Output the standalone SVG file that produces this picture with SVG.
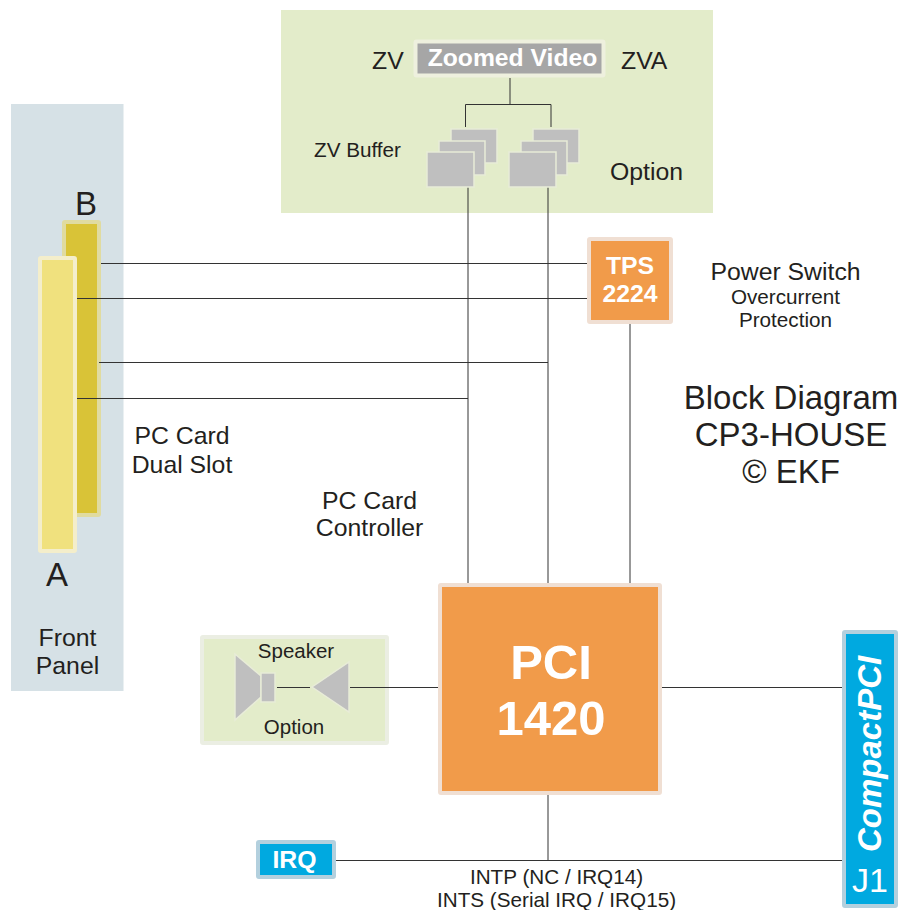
<svg xmlns="http://www.w3.org/2000/svg" width="901" height="910" viewBox="0 0 901 910">
<style>
text{font-family:"Liberation Sans",Arial,sans-serif;fill:#231f20}
.w{fill:#fff;font-weight:bold}
.m{text-anchor:middle}
.c{stroke:#333;stroke-width:1;fill:none}
.b{fill:#bfbfbf;stroke:#e8ecd8;stroke-width:1.5}
.o{fill:#f19b4a;stroke:#f0dfd3;stroke-width:4}
.bl{fill:#00a9e0;stroke:#b3d0de;stroke-width:4}
</style>
<rect id="front-panel-bg" x="11" y="104" width="112.500" height="587" fill="#d6e1e6"/>
<rect id="zv-bg" x="281" y="10" width="432" height="203" fill="#e3ecca"/>
<g id="speaker">
<rect x="202" y="637" width="185" height="106" fill="#e3ecca" stroke="#ebeee3" stroke-width="4" rx="1"/>
<path class="b" d="M235 654L261 676V697L235 720Z"/>
<rect class="b" x="261" y="673" width="14" height="29"/>
<path class="b" d="M349 662V712L312 687Z"/>
<text class="m" x="296" y="658" font-size="20.500">Speaker</text>
<text class="m" x="294" y="734" font-size="20.500">Option</text>
</g>
<g id="slot-b">
<rect x="64" y="222" width="35" height="293" fill="#d9c337" stroke="#e0dba0" stroke-width="4" rx="1"/>
<text x="75" y="215" font-size="33">B</text>
</g>
<g id="slot-a">
<rect x="40" y="258" width="35" height="293" fill="#f0e17e" stroke="#f4eecb" stroke-width="4" rx="1"/>
<text x="46" y="586" font-size="33">A</text>
</g>
<g id="connectors">
<path class="c" d="M510 78V104M465.500 127V104.500H551V127"/>
<path class="c" d="M468 187V583M548 187V583M630 323V583"/>
<path class="c" d="M101 263.500H587M77 298.500H587M99 362.500H548M77 398.500H468"/>
<path class="c" d="M277 687.500H310M350 687.500H438M662 687.500H842"/>
<path class="c" d="M335 860.500H842M548 795V860"/>
</g>
<g id="zoomed-video">
<rect x="415.500" y="41.500" width="188" height="34" fill="#a6a6a6" stroke="#eef0de" stroke-width="4" rx="1"/>
<text class="w m" x="512.500" y="66" font-size="24.700">Zoomed Video</text>
</g>
<g id="zv-labels">
<text x="372" y="69" font-size="24.800">ZV</text>
<text x="621" y="69" font-size="24.800">ZVA</text>
<text x="314" y="157" font-size="20.700">ZV Buffer</text>
<text x="610" y="180" font-size="24.800">Option</text>
</g>
<g id="buffer-left">
<rect class="b" x="451" y="129" width="46" height="34"/>
<rect class="b" x="439" y="141" width="46" height="34"/>
<rect class="b" x="427" y="152" width="47" height="35"/>
</g>
<g id="buffer-right">
<rect class="b" x="533" y="129" width="46" height="34"/>
<rect class="b" x="521" y="141" width="46" height="34"/>
<rect class="b" x="509" y="152" width="47" height="35"/>
</g>
<g id="front-panel-label">
<text class="m" x="67.500" y="646" font-size="24.800">Front</text>
<text class="m" x="67.500" y="674" font-size="24.800">Panel</text>
</g>
<g id="tps">
<rect class="o" x="589" y="239" width="82" height="83" rx="1"/>
<text class="w m" x="630" y="274" font-size="24.800">TPS</text>
<text class="w m" x="630" y="302" font-size="24.800">2224</text>
</g>
<g id="labels">
<text class="m" x="785.500" y="280" font-size="24.800">Power Switch</text>
<text class="m" x="785.500" y="304" font-size="20.700">Overcurrent</text>
<text class="m" x="785.500" y="327" font-size="20.700">Protection</text>
<text class="m" x="791" y="409" font-size="33">Block Diagram</text>
<text class="m" x="791" y="446" font-size="33">CP3-HOUSE</text>
<text class="m" x="791" y="483" font-size="33">© EKF</text>
<text class="m" x="182" y="444" font-size="24.800">PC Card</text>
<text class="m" x="182" y="473" font-size="24.800">Dual Slot</text>
<text class="m" x="369.500" y="509" font-size="24.800">PC Card</text>
<text class="m" x="369.500" y="536" font-size="24.800">Controller</text>
<text class="m" x="556.500" y="884" font-size="20.700">INTP (NC / IRQ14)</text>
<text class="m" x="556.500" y="907" font-size="20.700">INTS (Serial IRQ / IRQ15)</text>
</g>
<g id="pci">
<rect class="o" x="440" y="585" width="220" height="208" rx="1"/>
<text class="w m" x="551" y="679" font-size="49">PCI</text>
<text class="w m" x="551" y="735" font-size="49">1420</text>
</g>
<g id="compactpci">
<rect class="bl" x="844" y="632" width="52" height="274" rx="1"/>
<text class="w" transform="translate(881 852) rotate(-90)" font-size="33" font-style="italic">CompactPCI</text>
<text x="852" y="892" font-size="34" style="fill:#fff">J1</text>
</g>
<g id="irq">
<rect class="bl" x="258" y="842" width="76" height="35" rx="1"/>
<text class="w m" x="294.500" y="868" font-size="24.800">IRQ</text>
</g>
</svg>
